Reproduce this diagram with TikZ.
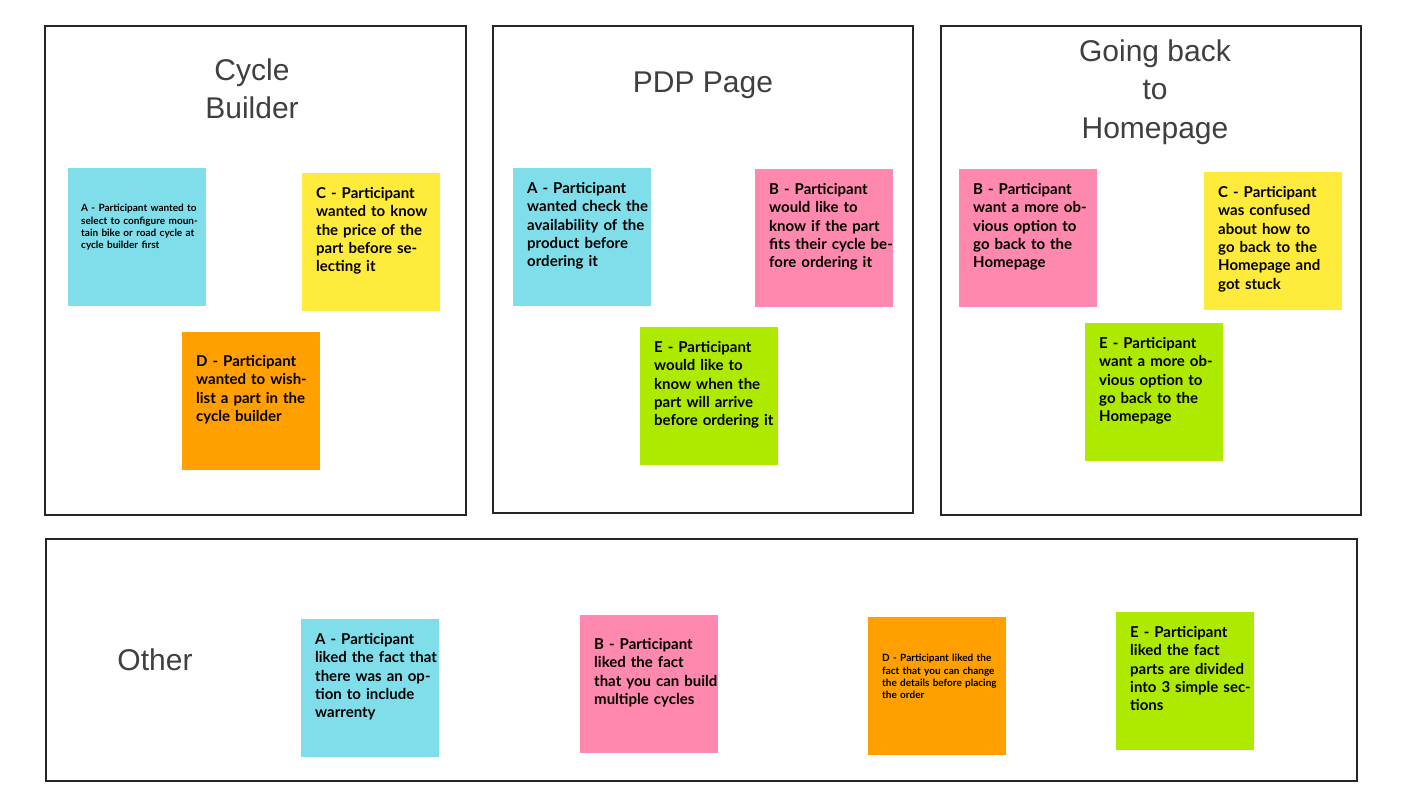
\documentclass[tikz,border=0pt]{standalone}
\usepackage{fontspec}
\setmainfont{Liberation Sans}
\newfontfamily\stickyfont{Lato}
\definecolor{cy}{HTML}{80DEEA}
\definecolor{pk}{HTML}{FF88AE}
\definecolor{yl}{HTML}{FFEB3B}
\definecolor{og}{HTML}{FF9F00}
\definecolor{gr}{HTML}{AEEA00}
\definecolor{ttl}{HTML}{3F3F3F}
\begin{document}
\begin{tikzpicture}[x=1pt,y=-1pt,
 frame/.style={draw=black!85,line width=1.3pt},
 sticky/.style={minimum width=138pt,minimum height=138pt,anchor=north west,inner sep=0pt},
 stxt/.style={anchor=north west,text width=124pt,align=left,inner sep=0pt,font=\stickyfont\bfseries\fontsize{15}{18.4}\selectfont},
 smtxt/.style={anchor=north west,text width=124pt,align=left,inner sep=0pt,font=\stickyfont\bfseries\fontsize{10}{12.4}\selectfont},
 ttlst/.style={text=ttl,align=center,font=\fontsize{30}{38.5}\selectfont}]
\useasboundingbox (0,0) rectangle (1422,800);
\draw[frame] (45,26) rectangle (466,515);
\draw[frame] (493,26) rectangle (913,513);
\draw[frame] (941,26) rectangle (1361,515);
\draw[frame] (46,539) rectangle (1357,781);
\node[ttlst] (t1) at (252,89) {Cycle\\Builder};
\node[ttlst] (t2) at (703,85) {PDP Page};
\node[ttlst] (t3) at (1155,92) {Going back\\to\\Homepage};
\node[ttlst] (t4) at (155,660) {Other};
% stickies
\node[sticky,fill=cy] (s1) at (68,168) {};
\node[smtxt] at (81,204) {A - Participant wanted to select to configure mountain bike or road cycle at cycle builder first};
\node[sticky,fill=yl] (s2) at (302,173) {};
\node[stxt] at (316,187) {C - Participant wanted to know the price of the part before selecting it};
\node[sticky,fill=og] (s3) at (182,332) {};
\node[stxt] at (196,355) {D - Participant wanted to wishlist a part in the cycle builder};
\node[sticky,fill=cy] (s4) at (513,168) {};
\node[stxt] at (527,182) {A - Participant wanted check the availability of the product before ordering it};
\node[sticky,fill=pk] (s5) at (755,169) {};
\node[stxt] at (769,183) {B - Participant would like to know if the part fits their cycle before ordering it};
\node[sticky,fill=gr] (s6) at (640,327) {};
\node[stxt] at (654,341) {E - Participant would like to know when the part will arrive before ordering it};
\node[sticky,fill=pk] (s7) at (959,169) {};
\node[stxt] at (973,183) {B - Participant want a more obvious option to go back to the Homepage};
\node[sticky,fill=yl] (s8) at (1204,172) {};
\node[stxt] at (1218,186) {C - Participant was confused about how to go back to the Homepage and got stuck};
\node[sticky,fill=gr] (s9) at (1085,323) {};
\node[stxt] at (1099,337) {E - Participant want a more obvious option to go back to the Homepage};
\node[sticky,fill=cy] (s10) at (301,619) {};
\node[stxt] at (315,633) {A - Participant liked the fact that there was an option to include warrenty};
\node[sticky,fill=pk] (s11) at (580,615) {};
\node[stxt] at (594,638) {B - Participant liked the fact that you can build multiple cycles};
\node[sticky,fill=og] (s12) at (868,617) {};
\node[smtxt] at (882,654) {D - Participant liked the fact that you can change the details before placing the order};
\node[sticky,fill=gr] (s13) at (1116,612) {};
\node[stxt] at (1130,626) {E - Participant liked the fact parts are divided into 3 simple sections};
\end{tikzpicture}
\end{document}
